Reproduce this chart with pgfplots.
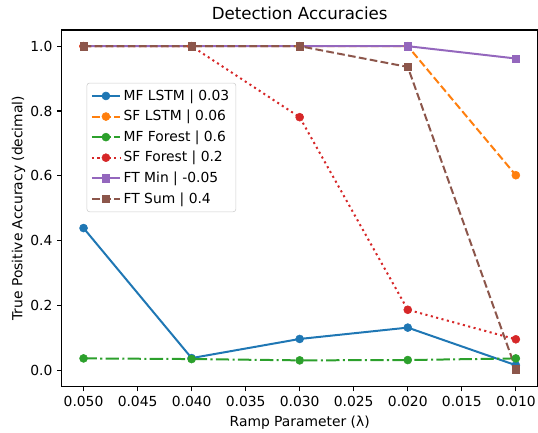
\documentclass[border=0pt]{standalone}
\usepackage{fontspec}
\setmainfont{DejaVu Sans}
\usepackage{pgfplots}
\pgfplotsset{compat=1.18}
\definecolor{c0}{HTML}{1F77B4}
\definecolor{c1}{HTML}{FF7F0E}
\definecolor{c2}{HTML}{2CA02C}
\definecolor{c3}{HTML}{D62728}
\definecolor{c4}{HTML}{9467BD}
\definecolor{c5}{HTML}{8C564B}
\begin{document}
\begin{tikzpicture}
\begin{axis}[
  name=ax,
  scale only axis,
  width=357pt, height=267.75pt,
  x dir=reverse,
  xmin=0.008, xmax=0.052,
  ymin=-0.05, ymax=1.05,
  xtick={0.01,0.015,0.02,0.025,0.03,0.035,0.04,0.045,0.05},
  ytick={0,0.2,0.4,0.6,0.8,1.0},
  scaled x ticks=false,
  x tick label style={/pgf/number format/.cd,fixed,fixed zerofill,precision=3,assume math mode=true},
  y tick label style={/pgf/number format/.cd,fixed,fixed zerofill,precision=1,assume math mode=true},
  tick align=outside,
  tick pos=left,
  major tick length=3.6pt,
  every tick/.style={black,line width=0.8pt},
  axis line style={line width=0.8pt},
  tick label style={font=\fontsize{10.4}{12}\selectfont},
  label style={font=\fontsize{10.4}{12}\selectfont},
  ylabel style={xshift=0pt, yshift=-3pt},
  title style={font=\fontsize{12.5}{14}\selectfont, yshift=-2pt},
  title={Detection Accuracies},
  xlabel={Ramp Parameter (λ)},
  ylabel={True Positive Accuracy (decimal)},
  legend style={at={(0.052,0.852)}, anchor=north west, draw=black!20, rounded corners=2pt,
    font=\fontsize{10.4}{12}\selectfont, row sep=2pt, inner xsep=3pt, inner ysep=3pt},
  legend cell align=left,
  legend image code/.code={\draw[mark repeat=2,mark phase=2] plot coordinates {(0cm,0cm)(0.37cm,0cm)(0.74cm,0cm)};},
  every axis plot/.append style={line width=1.5pt},
]
\addplot[c0, solid, mark=*, mark size=3pt, mark options={solid,draw=c0,fill=c0,line width=0.4pt}]
  coordinates {(0.05,0.439)(0.04,0.038)(0.03,0.097)(0.02,0.132)(0.01,0.016)};
\addlegendentry{MF LSTM | 0.03}
\addplot[c1, dash pattern=on 5.8pt off 2.5pt, mark=*, mark size=3pt, mark options={solid,draw=c1,fill=c1,line width=0.4pt}]
  coordinates {(0.05,1.0)(0.04,1.0)(0.03,1.0)(0.02,1.0)(0.01,0.602)};
\addlegendentry{SF LSTM | 0.06}
\addplot[c2, dash pattern=on 10pt off 2.5pt on 1.56pt off 2.5pt, mark=*, mark size=3pt, mark options={solid,draw=c2,fill=c2,line width=0.4pt}]
  coordinates {(0.05,0.037)(0.04,0.035)(0.03,0.031)(0.02,0.032)(0.01,0.037)};
\addlegendentry{MF Forest | 0.6}
\addplot[c3, dash pattern=on 1.56pt off 2.6pt, mark=*, mark size=3pt, mark options={solid,draw=c3,fill=c3,line width=0.4pt}]
  coordinates {(0.05,1.0)(0.04,1.0)(0.03,0.781)(0.02,0.187)(0.01,0.096)};
\addlegendentry{SF Forest | 0.2}
\addplot[c4, solid, mark=square*, mark size=2.8pt, mark options={solid,draw=c4,fill=c4,line width=0.4pt}]
  coordinates {(0.05,1.0)(0.04,1.0)(0.03,1.0)(0.02,1.0)(0.01,0.962)};
\addlegendentry{FT Min | -0.05}
\addplot[c5, dash pattern=on 5.8pt off 2.5pt, mark=square*, mark size=2.8pt, mark options={solid,draw=c5,fill=c5,line width=0.4pt}]
  coordinates {(0.05,1.0)(0.04,1.0)(0.03,1.0)(0.02,0.936)(0.01,0.004)};
\addlegendentry{FT Sum | 0.4}
\end{axis}
\pgfresetboundingbox
\path ([shift={(-46.5pt,-34.5pt)}]ax.south west) rectangle ([shift={(0.4pt,22.5pt)}]ax.north east);
\end{tikzpicture}
\end{document}
